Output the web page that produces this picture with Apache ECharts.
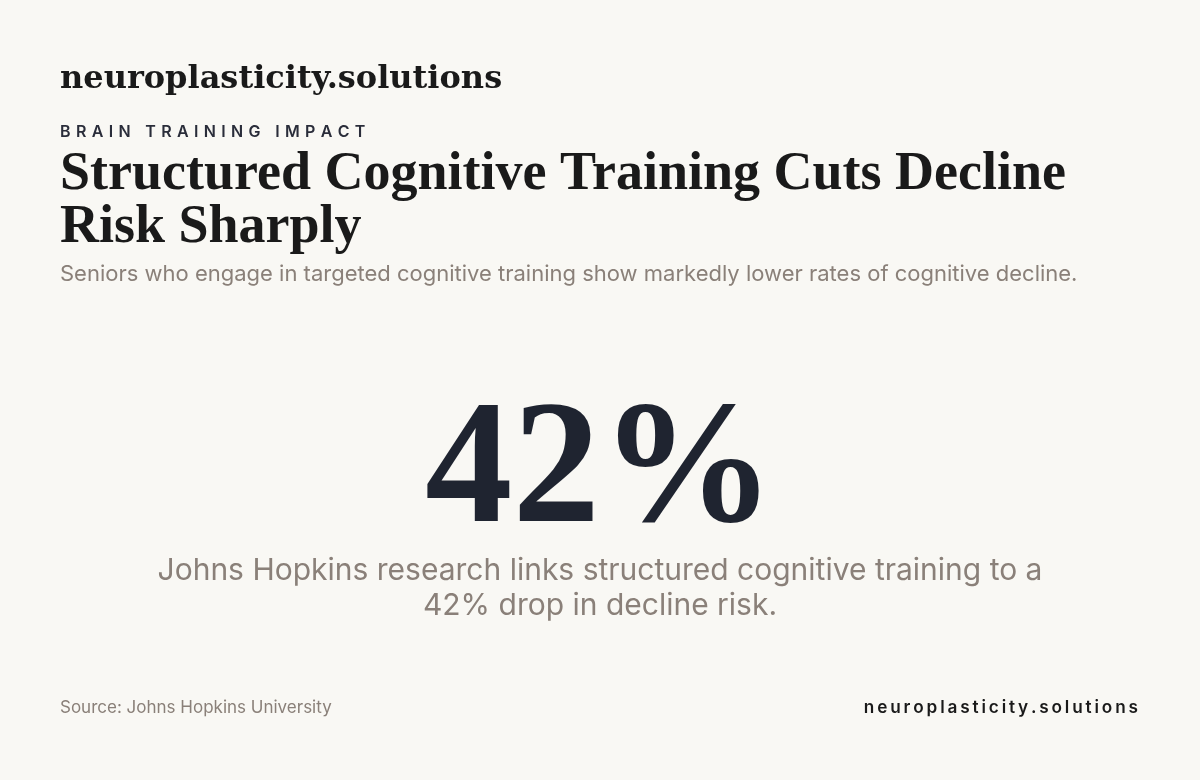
<!DOCTYPE html>
<html><head><meta charset="utf-8">
<script src="https://cdn.jsdelivr.net/npm/echarts@6/dist/echarts.min.js"></script>
<style>html,body{margin:0;background:#f9f8f4}#c{width:1200px;height:780px}</style>
</head><body><div id="c"></div>
<script>
const brand = "neuroplasticity.solutions";
const kicker = "BRAIN TRAINING IMPACT";
const titleLines = ["Structured Cognitive Training Cuts Decline", "Risk Sharply"];
const subtitle = "Seniors who engage in targeted cognitive training show markedly lower rates of cognitive decline.";
const statValue = [42];
const captionLines = ["Johns Hopkins research links structured cognitive training to a", "42% drop in decline risk."];
const source = "Source: Johns Hopkins University";

const serif = "'DejaVu Serif', serif";
const serif2 = "'Liberation Serif', serif";
const sans = "Inter, 'Noto Sans', sans-serif";
const chart = echarts.init(document.getElementById('c'));
function t(x, y, text, font, fill, align) {
  return {type:'text', x, y, style:{text, font, fill, align:align||'left', verticalAlign:'top'}};
}
chart.setOption({
  backgroundColor:'#f9f8f4',
  graphic:[
    t(60, 64, brand, "bold 32px " + serif, '#1a1a1a'),
    t(60, 124, kicker.split('').join('\u2004'), "600 16px " + sans, '#2a2d3a'),
    t(60, 148, titleLines[0], "bold 54px " + serif2, '#1a1a1a'),
    t(60, 201, titleLines[1], "bold 54px " + serif2, '#1a1a1a'),
    t(60, 263, subtitle, "22px " + sans, '#8a8079'),
    t(600, 388, statValue[0] + "%", "bold 175px " + serif2, '#1f2430', 'center'),
    t(600, 556, captionLines[0], "30px " + sans, '#8a8079', 'center'),
    t(600, 591, captionLines[1], "30px " + sans, '#8a8079', 'center'),
    t(60, 699, source, "17px " + sans, '#8a8079'),
    t(1138, 699, brand.split('').join('\u2006'), "600 17.2px " + sans, '#1a1a1a', 'right')
  ]
});
</script></body></html>
